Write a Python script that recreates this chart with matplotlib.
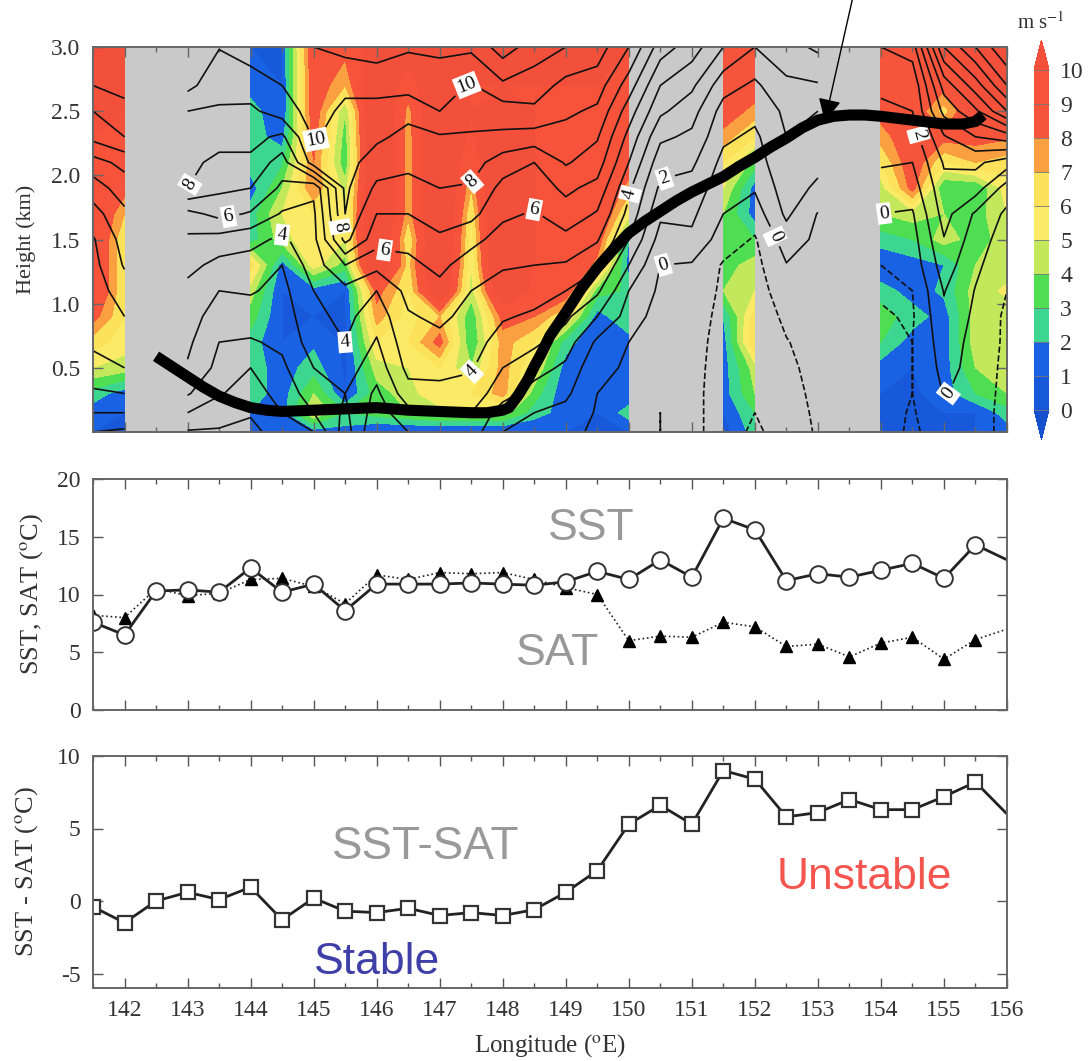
import numpy as np
import matplotlib
matplotlib.use('Agg')
import matplotlib.pyplot as plt
from matplotlib.colors import ListedColormap, BoundaryNorm
from matplotlib.ticker import MultipleLocator

plt.rcParams['font.family'] = ['Liberation Serif', 'DejaVu Serif']
plt.rcParams['mathtext.fontset'] = 'stix'
plt.rcParams['axes.unicode_minus'] = False

# lower panels, every 0.5 deg from 141.5E
lon = np.arange(141.5, 156.01, 0.5)
sst = [7.6, 6.5, 10.3, 10.4, 10.2, 12.3, 10.2, 10.9, 8.6, 10.9, 10.9, 10.9, 11.0, 10.9, 10.8,
       11.1, 12.0, 11.3, 13.0, 11.5, 16.6, 15.6, 11.2, 11.8, 11.5, 12.1, 12.7, 11.4, 14.3, 13.0]
sat = [8.2, 8.0, 10.5, 9.9, 10.1, 11.3, 11.4, 10.7, 9.2, 11.7, 11.3, 11.9, 11.8, 11.9, 11.3,
       10.6, 10.0, 6.0, 6.4, 6.3, 7.6, 7.2, 5.5, 5.7, 4.6, 5.8, 6.3, 4.4, 6.1, 7.0]
diff = [-0.4, -1.5, 0.0, 0.6, 0.1, 0.95, -1.3, 0.2, -0.7, -0.8, -0.5, -1.0, -0.8, -1.0, -0.6,
        0.6, 2.1, 5.3, 6.6, 5.3, 9.0, 8.4, 5.8, 6.1, 7.0, 6.3, 6.3, 7.2, 8.2, 6.0]

# top panel heights (km)
heights = [0, .15, .3, .5, .7, .9, 1.1, 1.3, 1.5, 1.7, 1.9, 2.1, 2.3, 2.5, 2.7, 3.0]

# wind speed (shading), one column per longitude, missing ones stay gray
wind = {
    141.5: [1, 1.5, 2.5, 5, 6.5, 8.5, 10, 10, 10, 10, 10, 10, 10, 11, 11, 11],
    142.0: [1, 1, 1.5, 4.5, 5.5, 6, 6, 6, 6, 7, 8.5, 10, 10, 10, 11, 11],
    144.0: [1, 2, 2.5, 2.5, 2.5, 3.5, 4.5, 6.5, 2.5, 2.5, 1.5, 2.5, 2.5, 2.5, 1.5, 1],
    144.5: [1, 1.5, 1.5, 1.5, 1, 1, 1, 1.5, 4.5, 5, 4, 2.8, 1.5, 1, 1, 1],
    145.0: [1.5, 5, 4, 2.5, 1.8, 1, 1.5, 5.5, 6, 6, 8, 8, 8.5, 9, 9, 9.5],
    145.5: [1.5, 3, 1, .8, .8, .8, 1, 3.5, 5, 5, 4.5, 3.2, 3.5, 4, 7, 8.5],
    146.0: [.8, 3.5, 3.5, 4.5, 6, 7.5, 8.5, 13, 13, 13, 13, 13, 13, 13, 12, 11],
    146.5: [.8, 4, 4.5, 5, 6, 5.5, 6, 6.5, 6, 7.3, 7.3, 7.3, 7.3, 7.5, 9, 11],
    147.0: [.8, 4.5, 6, 6, 8.5, 7, 12, 13, 13, 13, 13, 13, 13, 13, 12, 11],
    147.5: [.8, 4.5, 6, 4, 3, 3.2, 4.5, 5, 5.5, 6, 7, 8.2, 9.5, 10, 10, 11],
    148.0: [.8, 4.5, 7.5, 7.5, 7.5, 8.5, 12, 14, 14, 14, 14, 14, 14, 12, 10, 11],
    148.5: [1, 2.5, 3.5, 5, 6, 8, 9.5, 10, 10, 10, 10, 10, 10, 10, 10, 11],
    149.0: [1, 1.5, 1.2, 1.5, 2.5, 6, 9, 10, 10, 10, 10, 10, 10, 10, 10, 11],
    149.5: [1, 1, 1, 1, 1, 1.5, 3.5, 7.5, 9, 10, 10, 10, 10, 10, 10, 11],
    150.0: [1, 2.5, 1.2, 1.2, 1.5, 3, 2.8, 1.5, 2, 5.5, 7.5, 9, 10, 10, 10, 10],
    151.5: [.5, 1, 1.5, 1.5, 1.5, 2, 4, 3.5, 3.5, 4, 5, 6, 7.5, 9, 9, 9],
    152.0: [2.5, 3, 4, 4.5, 7, 6.5, 5, 4.5, 3, 1.5, 1.5, 3.5, 6, 7.5, 9, 9],
    154.0: [1, 1, 1, 1.5, 3, 3.5, 2.5, 1, 2.5, 4, 4.5, 6, 7.5, 8.5, 9, 9],
    154.5: [.8, .8, .8, 1, 1.5, 2.5, 1.5, 1.5, 3, 4.5, 8.5, 9, 9, 9, 9, 9],
    155.0: [1, 1, 1.5, 1.5, 1.5, 1.5, 2.2, 2, 4.5, 4, 3, 6, 8.5, 6.5, 8.5, 9],
    155.5: [1, 1, 3, 4, 4.5, 4.5, 4.5, 4, 3.5, 3.5, 3, 7, 8.5, 10, 11, 11],
    156.0: [1.5, 2.5, 4, 4.5, 4.5, 4.5, 5.2, 4.5, 4.5, 5, 5.5, 6.5, 8.2, 9, 11, 11],
}

# contoured field (black lines), gaps at 142.5 and 153.5
lines = {
    141.5: [0, 1, 1.8, 2.8, 3.1, 3.3, 3.5, 3.7, 3.9, 4.6, 5.5, 6.6, 8.3, 9, 10, 11],
    142.0: [-.2, 1, 2, 3, 3.5, 4, 4.5, 5.1, 5.4, 5.8, 6.5, 7.3, 9, 9.7, 10.3, 11],
    143.0: [-.1, 1, 2.1, 2.9, 3.2, 3.55, 3.7, 4.3, 4.8, 5.7, 8, 8.2, 8.6, 9, 10.3, 11],
    143.5: [-.1, .4, 1.1, 1.7, 2, 2.4, 3, 3.7, 4.6, 6.3, 7.2, 7.8, 8.3, 8.9, 9.3, 10.05],
    144.0: [-.3, .1, .5, 1, 1.9, 2.5, 3.1, 3.6, 4.3, 5.9, 7, 7.8, 8.3, 8.8, 9.5, 10.5],
    144.5: [.5, 1, 1.4, 1.8, 2.2, 2.5, 2.7, 3, 3.8, 4.9, 5.8, 6.5, 7.8, 9.5, 10, 10.7],
    145.0: [1, 2, 2.5, 3, 3.5, 3.7, 4, 4.5, 4.7, 4.8, 5.2, 9.5, 10.1, 10.4, 10.7, 11],
    145.5: [3.5, 3.2, 3, 3.5, 4, 4.3, 4.7, 6, 8.3, 9, 9.2, 9.4, 9.6, 9.8, 10.2, 11.3],
    146.0: [1, 1.5, 1.8, 2.4, 2.9, 3.4, 4, 5.3, 6.4, 7, 7.8, 8.5, 9.2, 9.7, 10.3, 11.5],
    146.5: [2, 2.7, 3.6, 4.3, 4.65, 4.9, 5.3, 5.75, 6.3, 7, 7.6, 8.3, 8.7, 9.3, 10.4, 11.1],
    147.0: [2.5, 3, 3.8, 4.2, 4.75, 5.2, 5.7, 6.25, 6.85, 7.4, 8, 8.45, 8.9, 10, 10.5, 11.2],
    147.5: [2.5, 3, 3.6, 4.1, 4.4, 4.7, 5, 5.5, 6.3, 7.3, 7.9, 8.4, 8.9, 9.4, 9.9, 11.2],
    148.0: [1, 1.5, 2.4, 3, 3.6, 4.1, 4.6, 5.1, 5.6, 6.2, 6.7, 7.5, 8.8, 9.5, 10.8, 12.5],
    148.5: [.5, 1, 1.6, 2.4, 3.2, 3.85, 4.4, 5, 5.45, 5.9, 6.5, 7, 8.6, 9.8, 10.5, 11.5],
    149.0: [.3, .7, 1.2, 1.8, 2.5, 3.2, 4, 4.9, 5.7, 6.6, 7.2, 8.1, 8.6, 9.2, 9.7, 11],
    149.5: [-.2, -.1, 0, .2, .8, 2, 3.2, 4.2, 5.1, 5.9, 6.7, 7.5, 8.1, 8.8, 9.5, 10.5],
    150.0: [-.5, -.4, -.3, -.1, 0, .6, 1, 2, 3, 3.7, 4.2, 5, 5.7, 6.5, 7.5, 9],
    150.5: [-1, -1, -.9, -.8, -1, -.5, -.2, 0, .6, 1.2, 1.8, 2.4, 3.2, 4.2, 5, 6.5],
    151.0: [-.7, -.7, -.7, -.7, -.6, -.5, -.3, -.1, .8, 1.2, 1.6, 2.2, 2.8, 3.4, 4.2, 5.5],
    151.5: [-1.5, -1.5, -1.5, -1.4, -1.4, -1.3, -1.2, -1.1, -.5, 0, .4, .7, 1.2, 1.6, 2.4, 4],
    152.0: [-2.2, -2, -1.9, -1.8, -1.7, -1.6, -1.5, -1.3, -1.1, -.5, .1, .5, .8, 1.3, 1.8, 3],
    152.5: [-1.5, -1.4, -1.3, -1.2, -1.05, -.8, -.4, -.05, .5, 1.2, 1.5, 1.8, 2, 2.2, 2.8, 3.6],
    153.0: [-.9, -.85, -.8, -.7, -.6, -.5, -.4, -.3, -.2, -.05, .8, 1.3, 1.7, 2, 2.9, 4.2],
    154.0: [-.5, -.6, -.7, -.8, -.9, -.9, -1.1, -1, -.5, 0, .6, 1.1, 1.5, 1.8, 2.2, 3],
    154.5: [-1.2, -1.1, -1, -1, -1, -1.1, -1, -.6, -.4, -.1, .5, 1, 1.5, 2, 2.2, 3.5],
    155.0: [-.4, -.2, .05, .3, .5, .8, 1.05, 1.5, 1.95, 2.4, 2.7, 3.1, 3.9, 5.3, 6.4, 9],
    155.5: [-.3, -.3, -.3, -.3, -.3, -.2, -.05, .2, .5, .85, 2.5, 3.2, 5, 6.8, 8.5, 11],
    156.0: [-1.5, -1.5, -1.4, -1.3, -1.2, -1.2, -1, -.7, -.5, -.2, .5, 2.5, 5.5, 9, 11, 13],
}

# thick line
pbl_lon = [142.5, 142.75, 143, 143.25, 143.5, 143.75, 144, 144.25, 144.5, 145, 145.5, 146, 146.5, 147, 147.5,
           147.75, 148, 148.1, 148.25, 148.4, 148.5, 148.6, 148.75, 149, 149.25, 149.5, 149.75, 150, 150.25,
           150.5, 150.75, 151, 151.25, 151.5, 151.75, 152, 152.25, 152.5, 152.75, 153, 153.25, 153.5, 153.75,
           154, 154.5, 155, 155.3, 155.5, 155.62]
pbl_h = [.59, .51, .43, .35, .28, .23, .19, .17, .16, .17, .18, .19, .17, .16, .15,
         .15, .17, .19, .29, .41, .51, .6, .75, .93, 1.12, 1.28, 1.42, 1.55, 1.64,
         1.72, 1.80, 1.87, 1.93, 1.99, 2.07, 2.14, 2.22, 2.29, 2.37, 2.43, 2.46, 2.47, 2.47,
         2.46, 2.43, 2.40, 2.40, 2.42, 2.47]

wind_levels = list(range(0, 11))
wind_colors = ['#1759DA', '#1A62E4', '#3CD690', '#4FDD52', '#C3E85C',
               '#FBEA66', '#FCE25A', '#FBA040', '#F6553B', '#F6533A']
odd_levels = list(range(-3, 16, 2))
even_levels = list(range(-2, 16, 2))

# labels: (lon, height) of each contour label
label_pos = [(143.0, 1.94), (143.65, 1.68), (144.5, 1.55), (145.05, 2.27), (145.42, 1.6),
             (146.1, 1.33), (145.75, .58), (147.55, .46), (147.55, 1.94), (148.5, 1.78),
             (147.4, 2.73), (150.05, 1.85), (150.55, 2.0), (150.55, 1.29), (152.3, 1.52),
             (154.7, 2.33), (154.05, 1.7), (155.35, .22)]


def to_grid(columns):
    grid = np.full((len(heights), len(lon)), np.nan)
    for k, v in columns.items():
        grid[:, int(round((k - 141.5) * 2))] = v
    return grid


fig = plt.figure(figsize=(10.89, 10.61), dpi=100)
W, H = 1089.0, 1061.0


def make_axes(left, right, top, bottom):
    return fig.add_axes([left / W, 1 - bottom / H, (right - left) / W, (bottom - top) / H])


def style(ax):
    ax.set_xlim(141.5, 156)
    ax.xaxis.set_major_locator(MultipleLocator(1))
    ax.xaxis.set_minor_locator(MultipleLocator(.5))
    ax.tick_params(which='major', direction='in', top=True, right=True, length=7, width=1,
                   color='#555555', labelcolor='#333333', labelsize=17, pad=9)
    ax.tick_params(which='minor', direction='in', top=True, right=True, length=3.5, width=1, color='#555555')
    for s in ax.spines.values():
        s.set_color('#666666')
        s.set_linewidth(1.4)


# top panel
ax1 = make_axes(93, 1007, 47, 432)
ax1.set_facecolor('#C9C9C9')
cmap = ListedColormap(wind_colors)
cmap.set_under('#1650CE')
cmap.set_over('#F2503A')
norm = BoundaryNorm(wind_levels, cmap.N)
cf = ax1.contourf(lon, heights, to_grid(wind), levels=wind_levels, cmap=cmap, norm=norm, extend='both')
ax1.contour(lon, heights, to_grid(lines), levels=odd_levels, colors='#111111', linewidths=1.2)
cs = ax1.contour(lon, heights, to_grid(lines), levels=even_levels, colors='#111111', linewidths=1.2)
labs = ax1.clabel(cs, manual=label_pos, fmt='%d', fontsize=14, inline=True, inline_spacing=6)
for t in labs:
    t.set_bbox(dict(facecolor='white', edgecolor='none', pad=1.5))
ax1.plot(pbl_lon, pbl_h, color='black', lw=8, solid_capstyle='butt', solid_joinstyle='round', zorder=5)
ax1.annotate('', xy=(153.11, 2.42), xytext=(153.56, 3.4), annotation_clip=False, zorder=6,
             arrowprops=dict(arrowstyle='-|>,head_length=1.0,head_width=0.5', color='black', lw=1, shrinkA=0, shrinkB=0,
                             mutation_scale=14))
style(ax1)
ax1.set_ylim(0, 3)
ax1.set_yticks([.5, 1, 1.5, 2, 2.5, 3])
ax1.set_yticklabels(['0.5', '1.0', '1.5', '2.0', '2.5', '3.0'])
ax1.set_xticklabels([])
ax1.tick_params(which='both', color='#666666')
ax1.set_ylabel('Height (km)', fontsize=16, color='#333333')
ax1.yaxis.set_label_coords(-0.062, 0.5)

# colorbar
cax = make_axes(1034, 1049, 40, 440)
cb = fig.colorbar(cf, cax=cax, ticks=wind_levels, extendfrac=0.088, drawedges=True)
cb.dividers.set_color('#777777')
cb.dividers.set_linewidth(.6)
cb.outline.set_visible(False)
cb.ax.tick_params(length=0, labelsize=17, labelcolor='#333333', pad=8)
fig.text(1041 / W, 1 - 29 / H, 'm s$^{-1}$', fontsize=15, color='#333333', ha='center', va='baseline')

# SST, SAT
ax2 = make_axes(93, 1007, 479, 710)
ax2.plot(lon, sat, color='#222222', lw=1.2, ls=':', marker='^', ms=8, mfc='black', mec='black',
         markevery=list(range(len(lon) - 1)))
ax2.plot(lon, sst, color='#222222', lw=2, marker='o', ms=12, mfc='white', mec='#333333', mew=1.4,
         markevery=list(range(len(lon) - 1)))
style(ax2)
ax2.set_ylim(0, 20)
ax2.set_yticks([0, 5, 10, 15, 20])
ax2.set_xticklabels([])
ax2.set_ylabel('SST, SAT ($^{\\rm o}$C)', fontsize=19, color='#333333')
ax2.yaxis.set_label_coords(-0.052, 0.5)
ax2.text(148.72, 14.7, 'SST', family=['Liberation Sans'], fontsize=32, color='#999999')
ax2.text(148.21, 3.9, 'SAT', family=['Liberation Sans'], fontsize=32, color='#999999')

# SST - SAT
ax3 = make_axes(93, 1007, 756, 988)
ax3.plot(lon, diff, color='#222222', lw=2, marker='s', ms=10, mfc='white', mec='#333333', mew=1.6,
         markevery=list(range(len(lon) - 1)))
style(ax3)
ax3.set_ylim(-6, 10)
ax3.set_yticks([-5, 0, 5, 10])
ax3.set_xticks(range(142, 157))
ax3.set_ylabel('SST - SAT ($^{\\rm o}$C)', fontsize=19, color='#333333')
ax3.yaxis.set_label_coords(-0.058, 0.5)
ax3.set_xlabel('Longitude ($^{\\rm o}$E)', fontsize=18, color='#333333', labelpad=8)
ax3.text(145.29, 2.9, 'SST-SAT', family=['Liberation Sans'], fontsize=33, color='#999999')
ax3.text(145.0, -5.03, 'Stable', family=['Liberation Sans'], fontsize=32, color='#3F3FA8')
ax3.text(152.34, .83, 'Unstable', family=['Liberation Sans'], fontsize=32, color='#F4554F')

fig.savefig('out.png', dpi=100)
